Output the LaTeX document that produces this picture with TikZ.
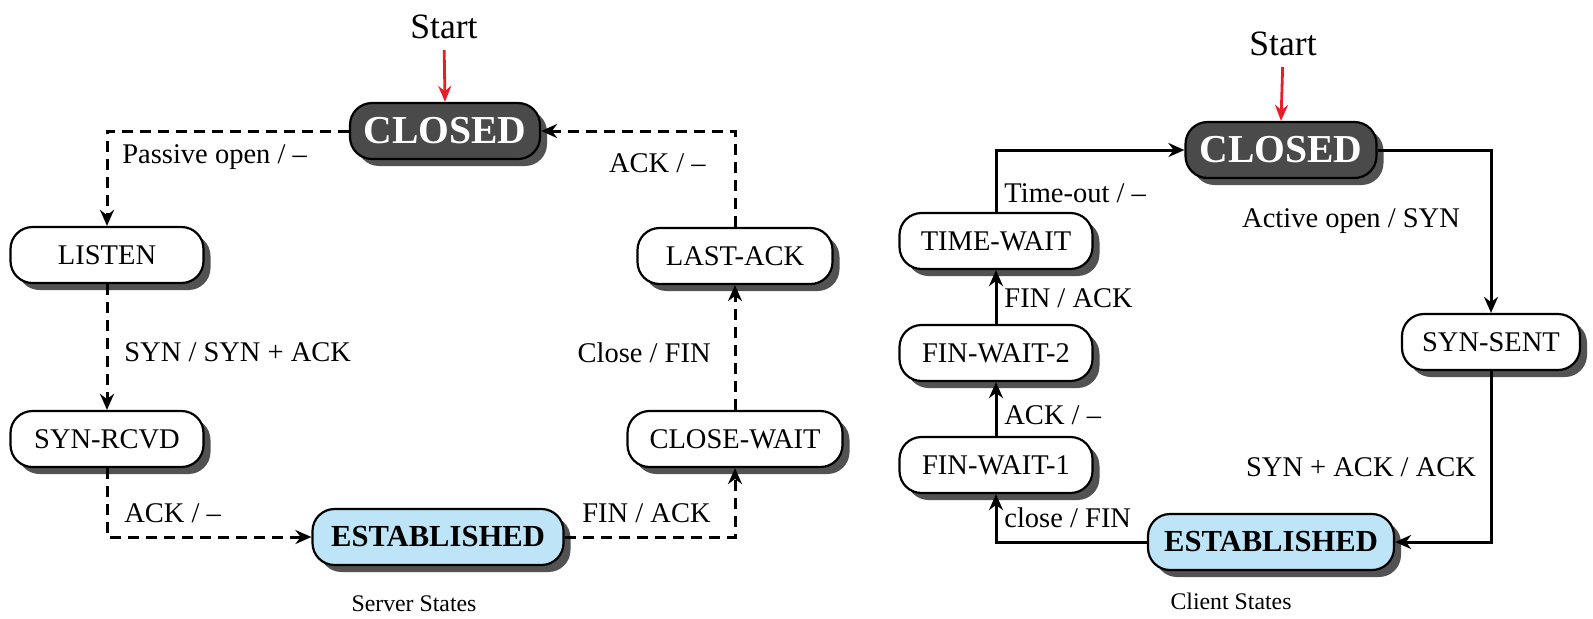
\documentclass[tikz,border=0pt]{standalone}
\usepackage{fontspec}
\setmainfont{Liberation Serif}
\usetikzlibrary{arrows.meta,shadows}
\definecolor{darkst}{RGB}{74,74,74}
\definecolor{estblue}{RGB}{190,228,248}
\definecolor{startred}{RGB}{230,30,40}
\begin{document}
\begin{tikzpicture}[x=0.5pt,y=-0.5pt,
  st/.style={draw=black, line width=1.1pt, rounded corners=11pt, fill=white,
    minimum height=28pt, inner sep=0pt, font=\fontsize{14.25}{16}\selectfont,
    drop shadow={shadow xshift=3.5pt, shadow yshift=-3.5pt, fill=black!68, opacity=1}},
  closedst/.style={st, fill=darkst, text=white, font=\fontsize{19.8}{22}\selectfont\bfseries},
  estst/.style={st, fill=estblue, font=\fontsize{15.3}{17}\selectfont\bfseries},
  lbl/.style={inner sep=0pt, font=\fontsize{14.25}{16}\selectfont},
  captxt/.style={inner sep=0pt, font=\fontsize{11.9}{14}\selectfont},
  startlbl/.style={inner sep=0pt, font=\fontsize{17.8}{20}\selectfont},
  conn/.style={line width=1.5pt, -{Stealth[length=8pt,width=7pt]}},
  dsh/.style={conn, dash pattern=on 5.5pt off 3.5pt},
  redarr/.style={line width=1.4pt, draw=startred, -{Stealth[length=8pt,width=6.5pt]}, shorten <=6pt}
]
\useasboundingbox (0,0) rectangle (1593,618);

% ---------------- Server side ----------------
\node[startlbl, anchor=base] (start1) at (444,38) {Start};
\node[closedst, minimum width=95pt] (cl1) at (445,131) {CLOSED};
\node[st, minimum width=96.5pt] (listen) at (107,255) {LISTEN};
\node[st, minimum width=96.5pt] (synr) at (107,439) {SYN-RCVD};
\node[estst, minimum width=125.5pt] (est1) at (438,537) {ESTABLISHED};
\node[st, minimum width=107.5pt] (cw) at (735,439) {CLOSE-WAIT};
\node[st, minimum width=97.5pt] (la) at (735,256) {LAST-ACK};

\draw[redarr] (start1.base) -- (cl1.north);
\draw[dsh] (cl1.west) -| (listen.north);
\draw[dsh] (listen.south) -- (synr.north);
\draw[dsh] (synr.south) |- (est1.west);
\draw[dsh] (est1.east) -| (cw.south);
\draw[dsh] (cw.north) -- (la.south);
\draw[dsh] (la.north) |- (cl1.east);

\node[lbl, anchor=west] (l1) at (122,157) {Passive open / –};
\node[lbl, anchor=west] (l2) at (124,352) {SYN / SYN + ACK};
\node[lbl, anchor=west] (l3) at (124,513) {ACK / –};
\node[lbl, anchor=east] (l4) at (711,513) {FIN / ACK};
\node[lbl, anchor=east] (l5) at (711,353) {Close / FIN};
\node[lbl, anchor=east] (l6) at (706,163) {ACK / –};
\node[captxt] (cap1) at (414,604) {Server States};

% ---------------- Client side ----------------
\node[startlbl, anchor=base] (start2) at (1283,55) {Start};
\node[closedst, minimum width=95.5pt] (cl2) at (1281,150) {CLOSED};
\node[st, minimum width=89pt] (ss) at (1491,342) {SYN-SENT};
\node[estst, minimum width=123pt] (est2) at (1271,542) {ESTABLISHED};
\node[st, minimum width=96.5pt] (fw1) at (996,465) {FIN-WAIT-1};
\node[st, minimum width=96.5pt] (fw2) at (996,353) {FIN-WAIT-2};
\node[st, minimum width=96.5pt] (tw) at (996,241) {TIME-WAIT};

\draw[redarr] (start2.base) -- (cl2.north);
\draw[conn] (cl2.east) -| (ss.north);
\draw[conn] (ss.south) |- (est2.east);
\draw[conn] (est2.west) -| (fw1.south);
\draw[conn] (fw1.north) -- (fw2.south);
\draw[conn] (fw2.north) -- (tw.south);
\draw[conn] (tw.north) |- (cl2.west);

\node[lbl] (r1) at (1351,221) {Active open / SYN};
\node[lbl] (r2) at (1361,467) {SYN + ACK / ACK};
\node[lbl, anchor=west] (r3) at (1004,518) {close / FIN};
\node[lbl, anchor=west] (r4) at (1004,415) {ACK / –};
\node[lbl, anchor=west] (r5) at (1004,298) {FIN / ACK};
\node[lbl, anchor=west] (r6) at (1004,193) {Time-out / –};
\node[captxt] (cap2) at (1231,601) {Client States};
\end{tikzpicture}
\end{document}
